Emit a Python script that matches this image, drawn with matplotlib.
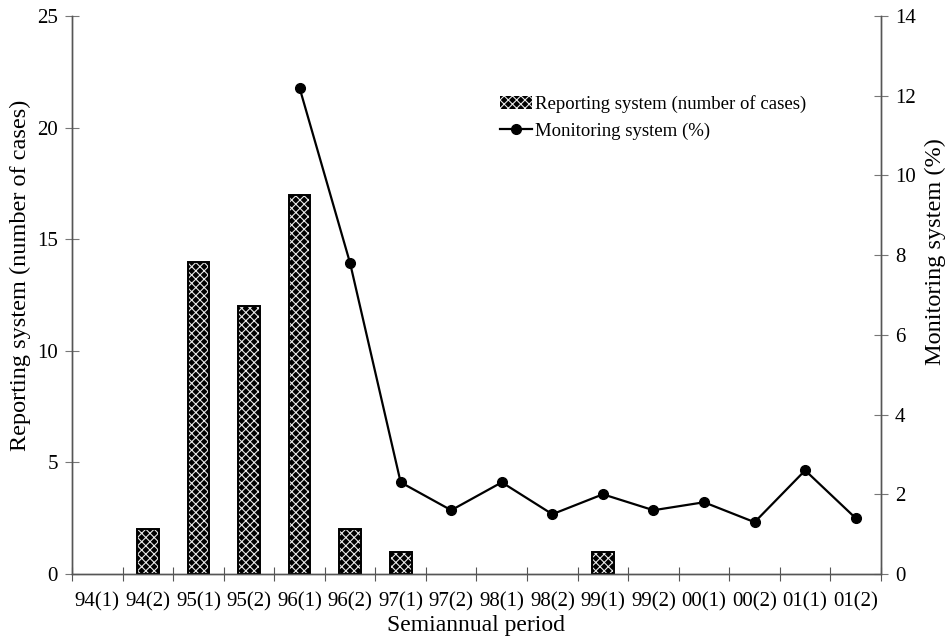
import numpy as np
import matplotlib.pyplot as plt

plt.rcParams['font.family'] = ['Liberation Serif', 'DejaVu Serif']
plt.rcParams['hatch.linewidth'] = 0.8

periods = ["94(1)", "94(2)", "95(1)", "95(2)", "96(1)", "96(2)", "97(1)", "97(2)",
           "98(1)", "98(2)", "99(1)", "99(2)", "00(1)", "00(2)", "01(1)", "01(2)"]
reported_cases = [0, 2, 14, 12, 17, 2, 1, 0, 0, 0, 1, 0, 0, 0, 0, 0]
# monitoring rate starts at 96(1)
monitor_periods = periods[4:]
monitor_pct = [12.2, 7.8, 2.3, 1.6, 2.3, 1.5, 2.0, 1.6, 1.8, 1.3, 2.6, 1.4]

x = np.arange(len(periods))
xm = np.arange(4, len(periods))
cases = np.array(reported_cases)
nz = cases > 0  # empty periods get no bar at all

fig = plt.figure(figsize=(9.48, 6.38), dpi=100)
ax = fig.add_axes([72/948, 64/638, (881-72)/948, (574-16)/638])
ax2 = ax.twinx()

bw = 0.43
ax.bar(x[nz], cases[nz], width=bw, facecolor='black', edgecolor='#e8e8e8',
       hatch='xxxx', linewidth=0, label="Reporting system (number of cases)", zorder=2)
ax.bar(x[nz], cases[nz], width=bw, fill=False, edgecolor='black', linewidth=1.4, zorder=3)

ax2.plot(xm, monitor_pct, color='black', lw=1.6, marker='o', markersize=7,
         label="Monitoring system (%)")

ax.set_xlim(-0.5, len(periods) - 0.5)
ax.set_ylim(0, 25)
ax2.set_ylim(0, 14)
ax.set_yticks(np.arange(0, 26, 5))
ax2.set_yticks(np.arange(0, 15, 2))

# category ticks sit on the boundaries, labels in the middle
ax.set_xticks(np.arange(-0.5, len(periods), 1.0))
ax.set_xticklabels([])
ax.set_xticks(x, minor=True)
ax.set_xticklabels(periods, minor=True, fontsize=15)
ax.tick_params(axis='x', which='minor', length=0, pad=13)
ax.tick_params(axis='x', which='major', direction='inout', length=10, color='#555555')
ax.tick_params(axis='y', direction='inout', length=10, color='#777777', labelsize=15, pad=5)
ax2.tick_params(axis='y', direction='inout', length=10, color='#777777', labelsize=15, pad=5)

for a in (ax, ax2):
    a.spines['top'].set_visible(False)
    for s in ('left', 'right', 'bottom'):
        a.spines[s].set_color('#555555')
        a.spines[s].set_linewidth(1.0)

ax.set_xlabel("Semiannual period", fontsize=17, labelpad=3)
ax.set_ylabel("Reporting system (number of cases)", fontsize=17.5,
              ha='center', va='center')
ax.yaxis.set_label_coords(-0.0643, 0.536)
ax2.set_ylabel("Monitoring system (%)", fontsize=17.5, ha='center', va='center')
ax2.yaxis.set_label_coords(1.0667, 0.577)

h1, l1 = ax.get_legend_handles_labels()
h2, l2 = ax2.get_legend_handles_labels()
ax2.legend(h1 + h2, l1 + l2, loc='upper left', bbox_to_anchor=(0.52, 0.871),
           frameon=False, fontsize=13.5, handlelength=1.7, handletextpad=0.15,
           labelspacing=0.5, borderaxespad=0)

fig.savefig("out.png", dpi=100)
